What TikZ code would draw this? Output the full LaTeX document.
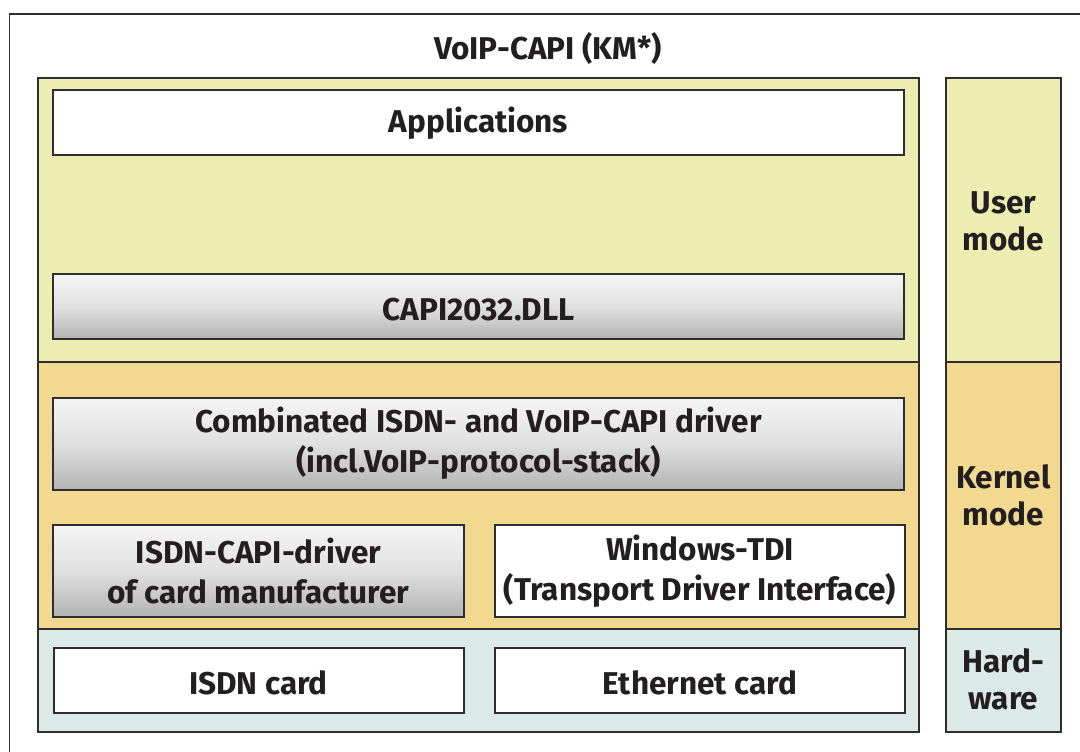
\documentclass[tikz,border=0pt]{standalone}
\usepackage{fontspec}
\setmainfont{Fira Sans}
\usetikzlibrary{positioning}
\definecolor{uyel}{HTML}{EDEDB1}
\definecolor{kora}{HTML}{F3D98F}
\definecolor{hblu}{HTML}{DBE9E7}
\definecolor{edge}{HTML}{2E2E30}
\definecolor{txt}{HTML}{231F20}
\tikzset{
  region/.style={draw=edge, line width=1.3pt},
  plainbox/.style={draw=edge, line width=2pt, fill=white, text=txt, font=\fontsize{31.5}{40}\selectfont\bfseries, align=center, inner sep=0pt},
  shadebox/.style={plainbox, top color=white!96!black, bottom color=black!30!white, middle color=black!12!white},
  lbl/.style={text=txt, font=\fontsize{31.5}{37}\selectfont\bfseries, align=center, inner sep=0pt}
}
\begin{document}
\begin{tikzpicture}[x=1pt,y=-1pt]
\useasboundingbox (0,0) rectangle (1080,752);
\fill[white] (0,0) rectangle (1080,752);
\draw[edge, line width=1.3pt] (1080,14) -- (9.5,14) -- (9.5,752);
\node[lbl] (title) at (548,48) {VoIP-CAPI (KM*)};
% main regions
\draw[region, fill=uyel] (38,78) rectangle (919,362);
\draw[region, fill=kora] (38,362) rectangle (919,629);
\draw[region, fill=hblu] (38,629) rectangle (919,732);
% side column
\draw[region, fill=uyel] (946,78) rectangle (1061,362);
\draw[region, fill=kora] (946,362) rectangle (1061,629);
\draw[region, fill=hblu] (946,629) rectangle (1061,732);
\node[lbl] (user) at (1003.5,221) {User\\mode};
\node[lbl] (kern) at (1003.5,495.5) {Kernel\\mode};
\node[lbl] (hard) at (1003.5,679.5) {Hard-\\ware};
% boxes
\node[plainbox, minimum width=851pt, minimum height=65pt, text height=19pt, text depth=0pt] (app) at (478.5,122.5) {Applications};
\node[shadebox, minimum width=851pt, minimum height=65pt, text height=28pt, text depth=0pt] (capi) at (478.5,306.5) {CAPI2032.DLL};
\node[shadebox, minimum width=851pt, minimum height=92pt] (comb) at (478.5,443.5) {Combinated ISDN- and VoIP-CAPI driver\\(incl.VoIP-protocol-stack)};
\node[shadebox, minimum width=411pt, minimum height=92pt] (isdndrv) at (258.5,571) {ISDN-CAPI-driver\\of card manufacturer};
\node[plainbox, minimum width=410pt, minimum height=92pt] (tdi) at (700,571) {Windows-TDI\\(Transport Driver Interface)};
\node[plainbox, minimum width=410pt, minimum height=65pt, text height=27pt, text depth=0pt] (isdncard) at (258.5,680.5) {ISDN card};
\node[plainbox, minimum width=410pt, minimum height=65pt, text height=27pt, text depth=0pt] (eth) at (700,680.5) {Ethernet card};
\end{tikzpicture}
\end{document}
